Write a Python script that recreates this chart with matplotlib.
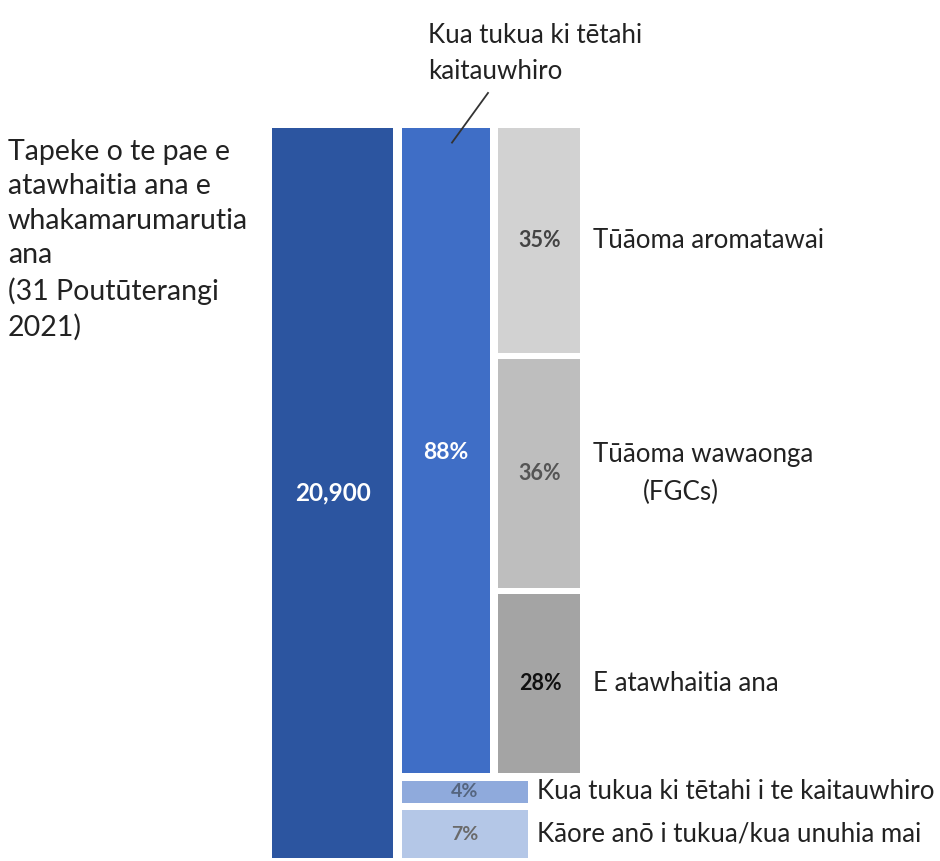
import matplotlib
matplotlib.use("Agg")
import matplotlib.pyplot as plt

# ---- data ----
total_label = "20,900"
left_title = ["Tapeke o te pae e", "atawhaitia ana e", "whakamarumarutia", "ana",
              "(31 Poutūterangi", "2021)"]
# second column: outcome of total (bottom to top)
col2_labels = ["Kāore anō i tukua/kua unuhia mai", "Kua tukua ki tētahi i te kaitauwhiro",
               "Kua tukua ki tētahi\nkaitauwhiro"]
col2_values = [7, 4, 88]
col2_colors = ["#B4C7E7", "#8FAADC", "#3F6EC6"]
col2_text_colors = ["#6a6a6a", "#55657f", "white"]
# third column: breakdown of referred (bottom to top)
col3_labels = ["E atawhaitia ana", "Tūāoma wawaonga\n(FGCs)", "Tūāoma aromatawai"]
col3_values = [28, 36, 35]
col3_colors = ["#A4A4A4", "#BEBEBE", "#D2D2D2"]
col3_text_colors = ["#111111", "#555555", "#444444"]

FONT = "Lato"
LBL = 18.6
fig = plt.figure(figsize=(9.40, 8.61), dpi=100)
ax = fig.add_axes([0, 0, 1, 1])
ax.set_xlim(0, 940)
# y: 0..100 = full total bar
ax.set_ylim(-3 / 7.3, 100 + 128 / 7.3)
ax.axis("off")

GAP = 1.0

# column 1: total
ax.bar(332.5, 100, width=121, bottom=0, color="#2C55A0", edgecolor="none")
ax.text(332.5, 50, total_label, color="white", fontsize=17.5, fontweight="bold",
        ha="center", va="center", family=FONT)

# column 2 stacked with gaps
scale2 = 100 / sum(col2_values)
cum = 0
col2_spans = []
for i, v in enumerate(col2_values):
    lo = cum * scale2 + (GAP / 2 if i > 0 else 0)
    hi = (cum + v) * scale2 - (GAP / 2 if i < len(col2_values) - 1 else 0)
    col2_spans.append((lo, hi))
    cum += v
for i, v in enumerate(col2_values):
    lo, hi = col2_spans[i]
    if i < 2:
        ax.bar(465, hi - lo, width=126, bottom=lo, color=col2_colors[i], edgecolor="none")
        ax.text(465, (lo + hi) / 2, f"{v}%", color=col2_text_colors[i], fontsize=14,
                fontweight="bold", ha="center", va="center", family=FONT)
        ax.text(537, (lo + hi) / 2, col2_labels[i], color="#222222", fontsize=LBL,
                ha="left", va="center", family=FONT)
    else:
        ax.bar(446, hi - lo, width=88, bottom=lo, color=col2_colors[i], edgecolor="none")
        ax.text(446, 55.5, f"{v}%", color="white", fontsize=16.5,
                fontweight="bold", ha="center", va="center", family=FONT)
        ax.text(428, 114.4, col2_labels[i], color="#222222", fontsize=LBL,
                ha="left", va="top", family=FONT, linespacing=1.58)
        ax.plot([452, 488], [hi - 2, hi + 4.8], color="#333333", lw=1.3)

# column 3: breakdown of the 88% bar
lo88, hi88 = col2_spans[2]
scale3 = (hi88 - lo88) / sum(col3_values)
cum = 0
for i, v in enumerate(col3_values):
    lo = lo88 + cum * scale3 + (GAP * 0.4 if i > 0 else 0)
    hi = lo88 + (cum + v) * scale3 - (GAP * 0.4 if i < len(col3_values) - 1 else 0)
    cum += v
    ax.bar(539, hi - lo, width=82, bottom=lo, color=col3_colors[i], edgecolor="none")
    ax.text(540, (lo + hi) / 2, f"{v}%", color=col3_text_colors[i], fontsize=15.5,
            fontweight="bold", ha="center", va="center", family=FONT)
    if "\n" in col3_labels[i]:
        l1, l2 = col3_labels[i].split("\n")
        ax.text(593, (lo + hi) / 2 + 2.6, l1, color="#222222", fontsize=LBL,
                ha="left", va="center", family=FONT)
        ax.text(681, (lo + hi) / 2 - 2.6, l2, color="#222222", fontsize=LBL,
                ha="center", va="center", family=FONT)
    else:
        ax.text(593, (lo + hi) / 2, col3_labels[i], color="#222222", fontsize=LBL,
                ha="left", va="center", family=FONT)

# left title
ax.text(8, 100 - (139 - 128) / 7.3, "\n".join(left_title), color="#222222", fontsize=20.5,
        ha="left", va="top", family=FONT, linespacing=1.40)

fig.savefig("out.png", dpi=100)
